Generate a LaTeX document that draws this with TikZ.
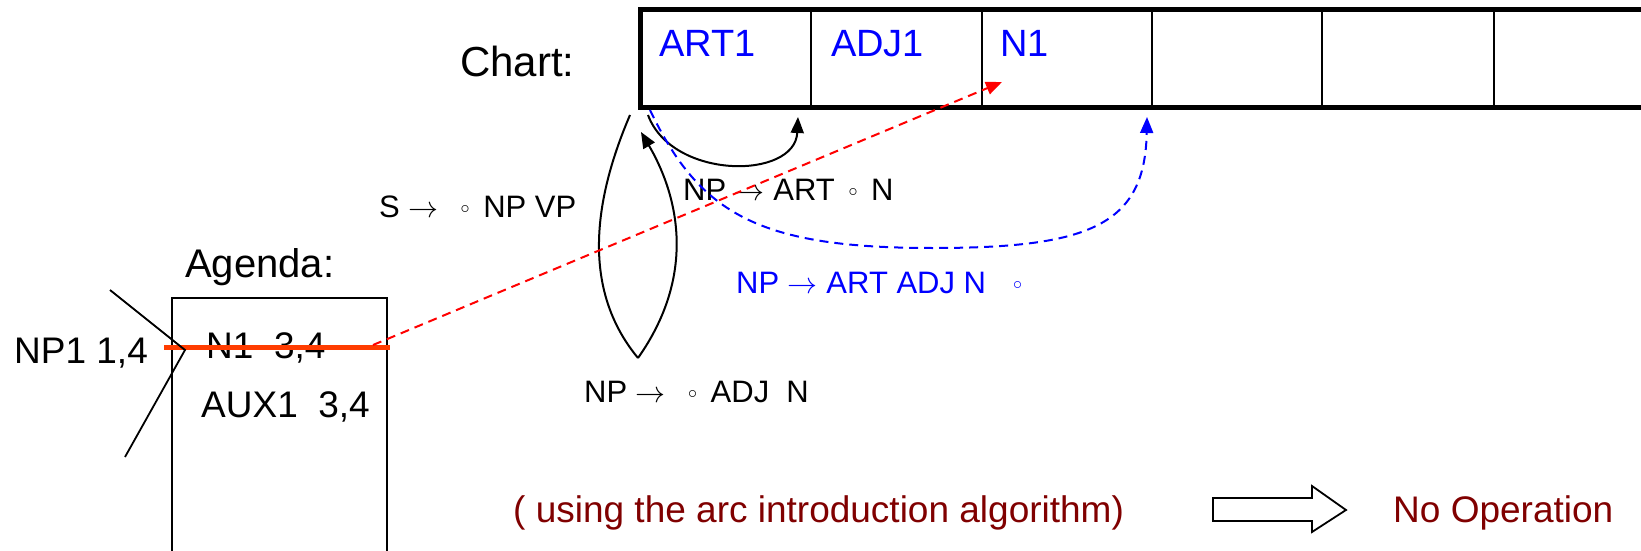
\documentclass[tikz,border=0pt]{standalone}
\usepackage{fontspec}
\setmainfont{Liberation Sans}
\usetikzlibrary{arrows.meta}
\definecolor{strikecol}{RGB}{255,60,0}
\definecolor{darkred}{RGB}{128,0,0}
\newcommand\rarr{\resizebox{30pt}{!}{$\rightarrow$}}
\newcommand\dotc{\hspace{5pt}\raisebox{4pt}{\resizebox{9pt}{!}{$\circ$}}\hspace{5pt}}
\begin{document}
\begin{tikzpicture}[x=1pt,y=-1pt,
  lbl/.style={anchor=base west,inner sep=0pt,font=\fontsize{37}{40}\selectfont},
  rulelbl/.style={anchor=base west,inner sep=0pt,font=\fontsize{31}{34}\selectfont},
  cell/.style={anchor=base west,inner sep=0pt,font=\fontsize{38}{40}\selectfont,text=blue},
  tip/.style={-{Triangle[length=16pt,width=13pt]}},
  thinline/.style={line width=1.8pt},
  curveline/.style={line width=2pt},
  dashr/.style={red,line width=2pt,dash pattern=on 9pt off 6pt},
  dashb/.style={blue,line width=2pt,dash pattern=on 9pt off 6pt}]
\useasboundingbox (0,0) rectangle (1641,551);
\clip (0,0) rectangle (1641,551);

% Chart
\draw[line width=5pt] (1660,10) -- (640,10) -- (640,107) -- (1660,107);
\foreach \x in {811,982,1152,1322,1494} \draw[line width=2pt] (\x,10) -- (\x,107);
\node[lbl,font=\fontsize{42}{44}\selectfont] (chartlbl) at (460,77) {Chart:};
\node[cell] (art1) at (659,57) {ART1};
\node[cell] (adj1) at (831,57) {ADJ1};
\node[cell] (n1) at (1000,57) {N1};

% Agenda
\node[lbl,font=\fontsize{40}{44}\selectfont] (agendalbl) at (185,277) {Agenda:};
\draw[thinline] (172,560) -- (172,298) -- (387,298) -- (387,560);
\node[lbl] (n1ag) at (206,358) {N1\ \ 3,4};
\node[lbl] (aux1) at (201,417) {AUX1\ \ 3,4};
\node[lbl] (np1) at (14,363) {NP1 1,4};
\coordinate (st0) at (164,347);
\coordinate (st1) at (390,347);
\draw[strikecol,line width=5pt] (st0) -- (st1);
\coordinate (ch0) at (110,290);
\coordinate (ch1) at (185,350);
\coordinate (ch2) at (125,457);
\draw[thinline] (ch0) -- (ch1) -- (ch2);

% Rules
\node[rulelbl] (srule) at (379,217) {S \rarr\ \ \dotc{} NP VP};
\node[rulelbl] (r1) at (683,200) {NP \rarr{} ART \dotc{} N};
\node[rulelbl,text=blue] (r2) at (736,293) {NP \rarr{} ART ADJ N\hspace{22pt}\dotc};
\node[rulelbl] (r3) at (584,402) {NP \rarr\ \ \dotc{} ADJ\ \ N};

% Connectors
\coordinate (blk0) at (648,115);
\coordinate (blk1) at (798,117);
\draw[curveline,tip] (blk0) .. controls (672,180) and (795,180) .. (blk1);

\coordinate (lensTop) at (630,115);
\coordinate (lensBot) at (638,358);
\coordinate (lensTip) at (641,132);
\draw[curveline] (lensTop) .. controls (585,220) and (590,300) .. (lensBot);
\draw[curveline,tip] (lensBot) .. controls (700,270) and (675,190) .. (lensTip);

\coordinate (bl0) at (650,110);
\coordinate (bl1) at (1147,117);
\draw[dashb,tip] (bl0) .. controls (700,215) and (760,248) .. (933,248)
   .. controls (1090,248) and (1145,225) .. (bl1);

\coordinate (rd1) at (1002,82);
\draw[dashr,tip] (st1) ++(-17,-2) -- (rd1);

% Bottom
\node[lbl,text=darkred] (using) at (513,522) {( using the arc introduction algorithm)};
\node[lbl,text=darkred] (noop) at (1393,522) {No Operation};
\draw[thinline,fill=white] (1213,498) -- (1312,498) -- (1312,486) -- (1346,510)
   -- (1312,532) -- (1312,521) -- (1213,521) -- cycle;
\end{tikzpicture}
\end{document}
